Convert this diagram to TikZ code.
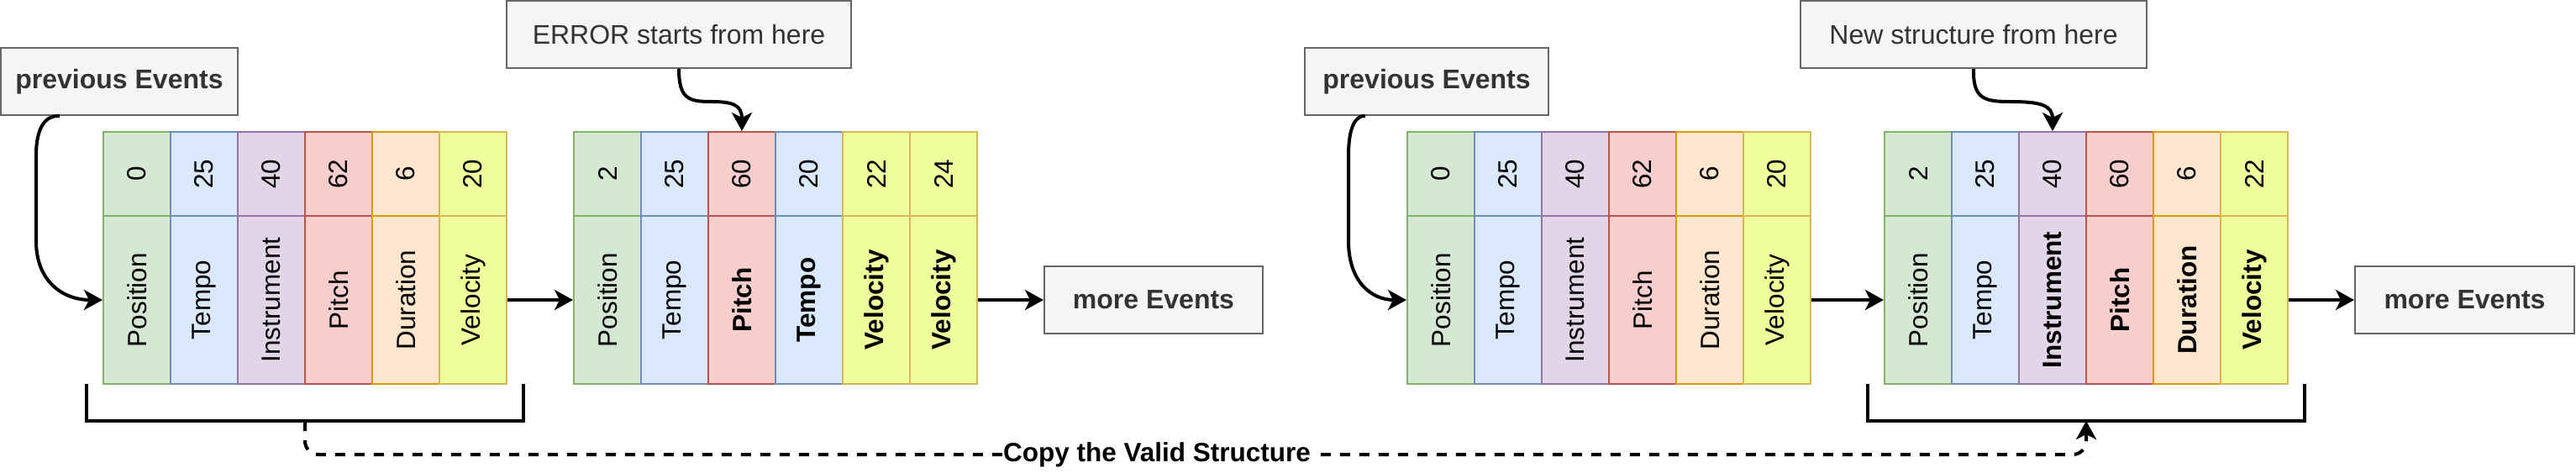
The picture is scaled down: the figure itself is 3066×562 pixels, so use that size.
\documentclass[tikz,border=0pt]{standalone}
\usepackage{fontspec}
\setmainfont{Liberation Sans}
\usepackage{graphicx}
\usetikzlibrary{arrows.meta,calc}
\definecolor{gfill}{HTML}{D5E8D4}\definecolor{gline}{HTML}{82B366}
\definecolor{bfill}{HTML}{DAE8FC}\definecolor{bline}{HTML}{6C8EBF}
\definecolor{pfill}{HTML}{E1D5E7}\definecolor{pline}{HTML}{9673A6}
\definecolor{rfill}{HTML}{F8CECC}\definecolor{rline}{HTML}{B85450}
\definecolor{ofill}{HTML}{FFE6CC}\definecolor{oline}{HTML}{D79B00}
\definecolor{yfill}{HTML}{F0FF9C}\definecolor{yline}{HTML}{D6B656}
\definecolor{boxfill}{HTML}{F5F5F5}\definecolor{boxline}{HTML}{666666}
\definecolor{boxtext}{HTML}{333333}
\newcommand\evcol[6]{%
  \node[numcell,#4] (#1n#2) at (#3+80*#2-40,207) {\rotatebox{90}{#5}};
  \node[labcell,#4] (#1l#2) at (#3+80*#2-40,357) {\rotatebox{90}{#6}};
}
\begin{document}
\begin{tikzpicture}[x=0.5pt,y=-0.5pt,
  cellbase/.style={draw, line width=1pt, inner sep=0pt, text=black,
    font=\fontsize{15.75}{18}\selectfont, minimum width=40pt},
  numcell/.style={cellbase, minimum height=50pt},
  labcell/.style={cellbase, minimum height=100pt},
  cg/.style={fill=gfill, draw=gline},
  cb/.style={fill=bfill, draw=bline},
  cp/.style={fill=pfill, draw=pline},
  cr/.style={fill=rfill, draw=rline},
  co/.style={fill=ofill, draw=oline},
  cy/.style={fill=yfill, draw=yline},
  greybox/.style={draw=boxline, fill=boxfill, line width=1pt, text=boxtext,
    inner sep=0pt, minimum height=40pt, font=\fontsize{16}{19}\selectfont},
  conn/.style={line width=2pt, -{Stealth[length=11pt,width=12pt,inset=3pt]}},
  bracketline/.style={line width=2pt},
  copyline/.style={line width=2pt, dash pattern=on 6pt off 5.5pt, rounded corners=8pt,
    -{Stealth[length=11pt,width=12pt,inset=3pt]}}
]
\useasboundingbox (0,0) rectangle (3066,562);

% top / side boxes
\node[greybox, minimum width=141pt, font=\fontsize{16}{19}\selectfont\bfseries] (prev1) at (142,97) {previous Events};
\node[greybox, minimum width=205pt] (err) at (808,41) {ERROR starts from here};
\node[greybox, minimum width=130pt, font=\fontsize{16}{19}\selectfont\bfseries] (more1) at (1373,357) {more Events};
\node[greybox, minimum width=145pt, font=\fontsize{16}{19}\selectfont\bfseries] (prev2) at (1698,97) {previous Events};
\node[greybox, minimum width=206pt] (new) at (2349,41) {New structure from here};
\node[greybox, minimum width=130.5pt, font=\fontsize{16}{19}\selectfont\bfseries] (more2) at (2933.5,357) {more Events};

% table 1
\evcol{ta}{1}{123}{cg}{0}{Position}
\evcol{ta}{2}{123}{cb}{25}{Tempo}
\evcol{ta}{3}{123}{cp}{40}{Instrument}
\evcol{ta}{4}{123}{cr}{62}{Pitch}
\evcol{ta}{5}{123}{co}{6}{Duration}
\evcol{ta}{6}{123}{cy}{20}{Velocity}
% table 2
\evcol{tb}{1}{683}{cg}{2}{Position}
\evcol{tb}{2}{683}{cb}{25}{Tempo}
\evcol{tb}{3}{683}{cr}{60}{\bfseries Pitch}
\evcol{tb}{4}{683}{cb}{20}{\bfseries Tempo}
\evcol{tb}{5}{683}{cy}{22}{\bfseries Velocity}
\evcol{tb}{6}{683}{cy}{24}{\bfseries Velocity}
% table 3
\evcol{tc}{1}{1675}{cg}{0}{Position}
\evcol{tc}{2}{1675}{cb}{25}{Tempo}
\evcol{tc}{3}{1675}{cp}{40}{Instrument}
\evcol{tc}{4}{1675}{cr}{62}{Pitch}
\evcol{tc}{5}{1675}{co}{6}{Duration}
\evcol{tc}{6}{1675}{cy}{20}{Velocity}
% table 4
\evcol{td}{1}{2243}{cg}{2}{Position}
\evcol{td}{2}{2243}{cb}{25}{Tempo}
\evcol{td}{3}{2243}{cp}{40}{\bfseries Instrument}
\evcol{td}{4}{2243}{cr}{60}{\bfseries Pitch}
\evcol{td}{5}{2243}{co}{6}{\bfseries Duration}
\evcol{td}{6}{2243}{cy}{22}{\bfseries Velocity}

% straight connectors
\draw[conn] (tal6.east) -- (tbl1.west);
\draw[conn] (tbl6.east) -- (more1.west);
\draw[conn] (tcl6.east) -- (tdl1.west);
\draw[conn] (tdl6.east) -- (more2.west);

% curved connectors
\draw[conn] ($(prev1.south west)!0.25!(prev1.south east)$)
  .. controls (55,137) and (43,150) .. (43,185) -- (43,287)
  .. controls (43,335) and (75,357) .. (tal1.west);
\draw[conn] ($(prev2.south west)!0.25!(prev2.south east)$)
  .. controls (1614,137) and (1605,150) .. (1605,185) -- (1605,287)
  .. controls (1605,335) and (1632,357) .. (tcl1.west);
\draw[conn] (err.south) .. controls (808,118) and (820,121) .. (847,121)
  .. controls (872,121) and (883,125) .. (tbn3.north);
\draw[conn] (new.south) .. controls (2348,118) and (2362,121) .. (2393,121)
  .. controls (2428,121) and (2443,125) .. (tdn3.north);

% brackets
\draw[bracketline] (103,457) -- (103,501) -- (623,501) -- (623,457);
\draw[bracketline] (2223,457) -- (2223,501) -- (2743,501) -- (2743,457);
\coordinate (br1) at (363,501);
\coordinate (br2) at (2483,501);

% copy connector
\draw[copyline] (br1) -- (363,541) -- (2483,541) -- (br2);
\node[fill=white, inner sep=0.5pt, text=black,
  font=\fontsize{15.75}{18}\selectfont\bfseries] (copylbl) at (1377,541) {Copy the Valid Structure};
\end{tikzpicture}
\end{document}
